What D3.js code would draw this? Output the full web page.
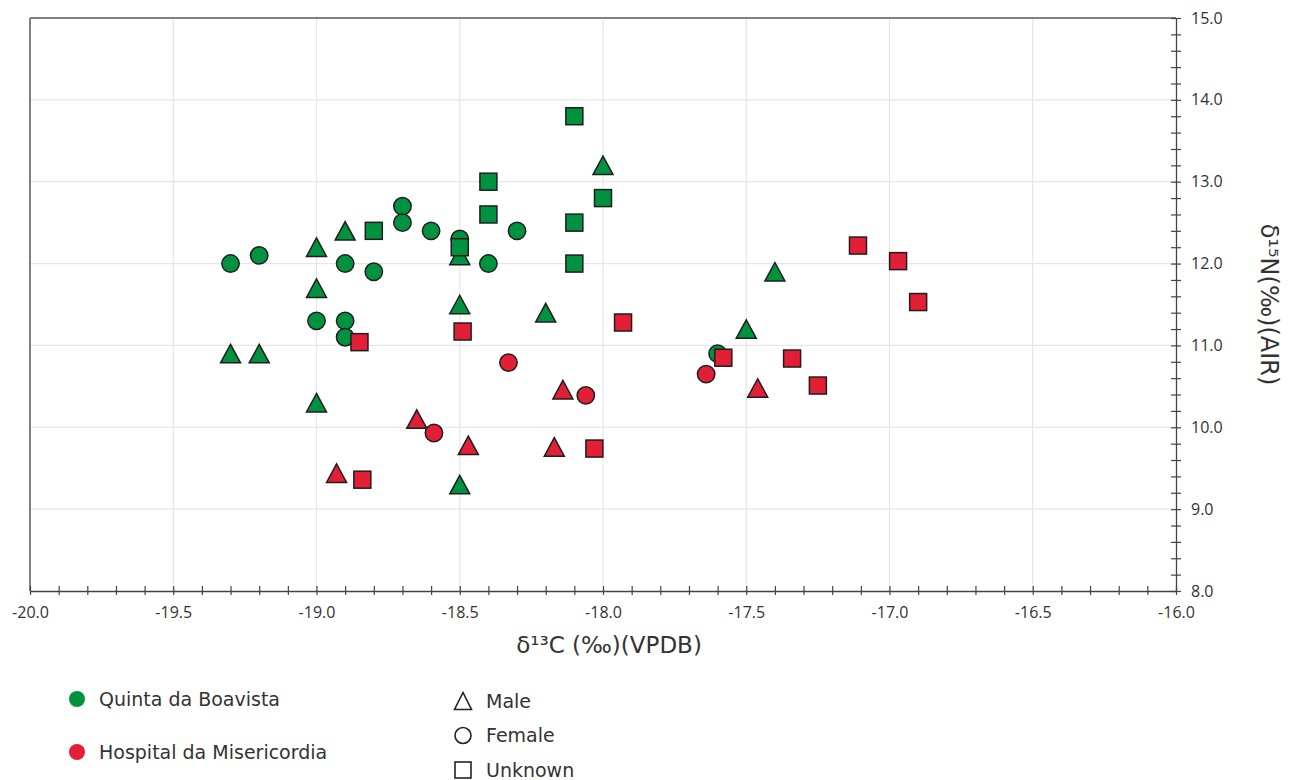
<!DOCTYPE html>
<html>
<head>
<meta charset="utf-8">
<script src="https://cdn.jsdelivr.net/npm/d3@7"></script>
<style>
  html, body { margin: 0; padding: 0; background: #ffffff; }
  svg { display: block; }
</style>
</head>
<body>
<svg id="chart" width="1294" height="780"></svg>
<script>
// δ13C / δ15N values per site and sex: [δ13C, δ15N]
const boavistaMale = [
  [-19.3, 10.9], [-19.2, 10.9], [-19.0, 12.2], [-18.9, 12.4], [-19.0, 11.7],
  [-19.0, 10.3], [-18.5, 12.1], [-18.5, 11.5], [-18.5, 9.3], [-18.2, 11.4],
  [-18.0, 13.2], [-17.5, 11.2], [-17.4, 11.9]
];
const boavistaFemale = [
  [-19.3, 12.0], [-19.2, 12.1], [-18.7, 12.7], [-18.7, 12.5], [-18.6, 12.4],
  [-18.5, 12.3], [-18.3, 12.4], [-18.4, 12.0], [-18.9, 12.0], [-18.8, 11.9],
  [-19.0, 11.3], [-18.9, 11.3], [-18.9, 11.1], [-17.6, 10.9]
];
const boavistaUnknown = [
  [-18.8, 12.4], [-18.5, 12.2], [-18.4, 13.0], [-18.4, 12.6], [-18.1, 13.8],
  [-18.1, 12.5], [-18.1, 12.0], [-18.0, 12.8]
];
const hospitalMale = [
  [-18.93, 9.44], [-18.65, 10.10], [-18.47, 9.78], [-18.17, 9.76],
  [-18.14, 10.46], [-17.46, 10.48]
];
const hospitalFemale = [
  [-18.33, 10.79], [-18.59, 9.93], [-18.06, 10.39], [-17.64, 10.65]
];
const hospitalUnknown = [
  [-18.85, 11.04], [-18.84, 9.36], [-18.49, 11.17], [-17.93, 11.28],
  [-18.03, 9.74], [-17.58, 10.85], [-17.34, 10.84], [-17.25, 10.51],
  [-17.11, 12.22], [-16.97, 12.03], [-16.90, 11.53]
];

const sites = ["Quinta da Boavista", "Hospital da Misericordia"];
const sexes = ["Male", "Female", "Unknown"];
const xMajorTicks = [-20.0, -19.5, -19.0, -18.5, -18.0, -17.5, -17.0, -16.5, -16.0];
const yMajorTicks = [8.0, 9.0, 10.0, 11.0, 12.0, 13.0, 14.0, 15.0];
const xTitle = "δ¹³C (‰)(VPDB)";
const yTitle = "δ¹⁵N(‰)(AIR)";

const siteColor = { "Quinta da Boavista": "#00923f", "Hospital da Misericordia": "#e21f36" };
const markerStroke = "#1e1e1e";

const svg = d3.select("#chart");
const plotLeft = 30, plotRight = 1176, plotTop = 18, plotBottom = 591;

const x = d3.scaleLinear().domain([-20, -16]).range([plotLeft, plotRight]);
const y = d3.scaleLinear().domain([8, 15]).range([plotBottom, plotTop]);

// grid
const grid = svg.append("g");
grid.selectAll("line.gx").data(xMajorTicks.slice(1, -1)).join("line")
  .attr("x1", d => x(d)).attr("x2", d => x(d))
  .attr("y1", plotTop).attr("y2", plotBottom)
  .attr("stroke", "#e6e6e6").attr("stroke-width", 1.2);
grid.selectAll("line.gy").data(yMajorTicks.slice(1, -1)).join("line")
  .attr("x1", plotLeft).attr("x2", plotRight)
  .attr("y1", d => y(d)).attr("y2", d => y(d))
  .attr("stroke", "#e6e6e6").attr("stroke-width", 1.2);

// frame (top and left)
svg.append("line").attr("x1", plotLeft).attr("x2", plotRight).attr("y1", plotTop).attr("y2", plotTop)
  .attr("stroke", "#5e5555").attr("stroke-width", 1.5);
svg.append("line").attr("x1", plotLeft).attr("x2", plotLeft).attr("y1", plotTop).attr("y2", plotBottom)
  .attr("stroke", "#5e5555").attr("stroke-width", 1.5);

// bottom axis: minor ticks every 0.1 that cross the axis line
const xMinor = d3.range(0, 41).map(i => -20 + i * 0.1);
const xAxisMinor = svg.append("g")
  .attr("transform", `translate(0,${plotBottom - 5})`)
  .call(d3.axisBottom(x).tickValues(xMinor).tickSize(9).tickFormat(""));
xAxisMinor.select(".domain").remove();
xAxisMinor.selectAll(".tick line").attr("stroke", "#444").attr("stroke-width", 1.2);

const xAxisLabels = svg.append("g")
  .attr("transform", `translate(0,${plotBottom})`)
  .call(d3.axisBottom(x).tickValues(xMajorTicks).tickSize(0).tickPadding(16).tickFormat(d3.format(".1f")));
xAxisLabels.select(".domain").attr("stroke", "#444").attr("stroke-width", 1.3);
xAxisLabels.selectAll("text")
  .attr("font-family", "'Open Sans', sans-serif").attr("font-size", 16).attr("fill", "#333")
  .text(d => d3.format(".1f")(d).replace("−", "-"));

// right axis: minor ticks every 0.2 crossing the axis line
const yMinor = d3.range(0, 36).map(i => 8 + i * 0.2);
const yAxisMinor = svg.append("g")
  .attr("transform", `translate(${plotRight - 5},0)`)
  .call(d3.axisRight(y).tickValues(yMinor).tickSize(10).tickFormat(""));
yAxisMinor.select(".domain").remove();
yAxisMinor.selectAll(".tick line").attr("stroke", "#444").attr("stroke-width", 1.2);

const yAxisLabels = svg.append("g")
  .attr("transform", `translate(${plotRight},0)`)
  .call(d3.axisRight(y).tickValues(yMajorTicks).tickSize(0).tickPadding(15).tickFormat(d3.format(".1f")));
yAxisLabels.select(".domain").attr("stroke", "#444").attr("stroke-width", 1.3);
yAxisLabels.selectAll("text")
  .attr("font-family", "'Open Sans', sans-serif").attr("font-size", 16).attr("fill", "#333");

// axis titles
svg.append("text")
  .attr("x", 609).attr("y", 653)
  .attr("text-anchor", "middle")
  .attr("font-family", "'DejaVu Sans', sans-serif").attr("font-size", 23).attr("fill", "#333")
  .text(xTitle);
svg.append("text")
  .attr("transform", `translate(1261,${(plotTop + plotBottom) / 2}) rotate(90)`)
  .attr("text-anchor", "middle")
  .attr("font-family", "'DejaVu Sans', sans-serif").attr("font-size", 24).attr("fill", "#333")
  .text(yTitle);

// marker shapes
const SQ = 17, CR = 8.7, TW = 20, TH = 18.5;
function drawMarkers(g, data, shape, fill) {
  const sel = g.selectAll(null).data(data);
  if (shape === "Male") {
    sel.join("path")
      .attr("d", `M0,${-TH / 2}L${TW / 2},${TH / 2}L${-TW / 2},${TH / 2}Z`)
      .attr("transform", d => `translate(${x(d[0])},${y(d[1])})`)
      .attr("fill", fill).attr("stroke", markerStroke).attr("stroke-width", 1.5)
      .attr("stroke-linejoin", "miter");
  } else if (shape === "Female") {
    sel.join("circle")
      .attr("cx", d => x(d[0])).attr("cy", d => y(d[1])).attr("r", CR)
      .attr("fill", fill).attr("stroke", markerStroke).attr("stroke-width", 1.5);
  } else {
    sel.join("rect")
      .attr("x", d => x(d[0]) - SQ / 2).attr("y", d => y(d[1]) - SQ / 2)
      .attr("width", SQ).attr("height", SQ)
      .attr("fill", fill).attr("stroke", markerStroke).attr("stroke-width", 1.5);
  }
}

const marks = svg.append("g");
const green = siteColor[sites[0]], red = siteColor[sites[1]];
drawMarkers(marks.append("g"), boavistaMale, "Male", green);
drawMarkers(marks.append("g"), boavistaFemale, "Female", green);
drawMarkers(marks.append("g"), boavistaUnknown, "Unknown", green);
drawMarkers(marks.append("g"), hospitalMale, "Male", red);
drawMarkers(marks.append("g"), hospitalFemale, "Female", red);
drawMarkers(marks.append("g"), hospitalUnknown, "Unknown", red);

// legend: sites
const legendFont = "'DejaVu Sans', sans-serif";
const siteLegend = svg.append("g");
sites.forEach((s, i) => {
  const cy = 699 + i * 53;
  siteLegend.append("circle").attr("cx", 77).attr("cy", cy).attr("r", 8).attr("fill", siteColor[s]);
  siteLegend.append("text").attr("x", 99).attr("y", cy).attr("dy", "0.35em")
    .attr("font-family", legendFont).attr("font-size", 19).attr("fill", "#333").text(s);
});

// legend: sexes (outlined shapes)
const sexLegend = svg.append("g");
sexes.forEach((s, i) => {
  const cy = 701 + i * 34.5;
  const cx = 463;
  if (s === "Male") {
    sexLegend.append("path")
      .attr("d", `M${cx},${cy - 8.5}L${cx + 8.5},${cy + 8.5}L${cx - 8.5},${cy + 8.5}Z`)
      .attr("fill", "none").attr("stroke", "#222").attr("stroke-width", 1.6);
  } else if (s === "Female") {
    sexLegend.append("circle").attr("cx", cx).attr("cy", cy).attr("r", 8)
      .attr("fill", "none").attr("stroke", "#222").attr("stroke-width", 1.6);
  } else {
    sexLegend.append("rect").attr("x", cx - 8).attr("y", cy - 8).attr("width", 16).attr("height", 16)
      .attr("fill", "none").attr("stroke", "#222").attr("stroke-width", 1.6);
  }
  sexLegend.append("text").attr("x", 486).attr("y", cy).attr("dy", "0.35em")
    .attr("font-family", legendFont).attr("font-size", 19).attr("fill", "#333").text(s);
});
</script>
</body>
</html>
